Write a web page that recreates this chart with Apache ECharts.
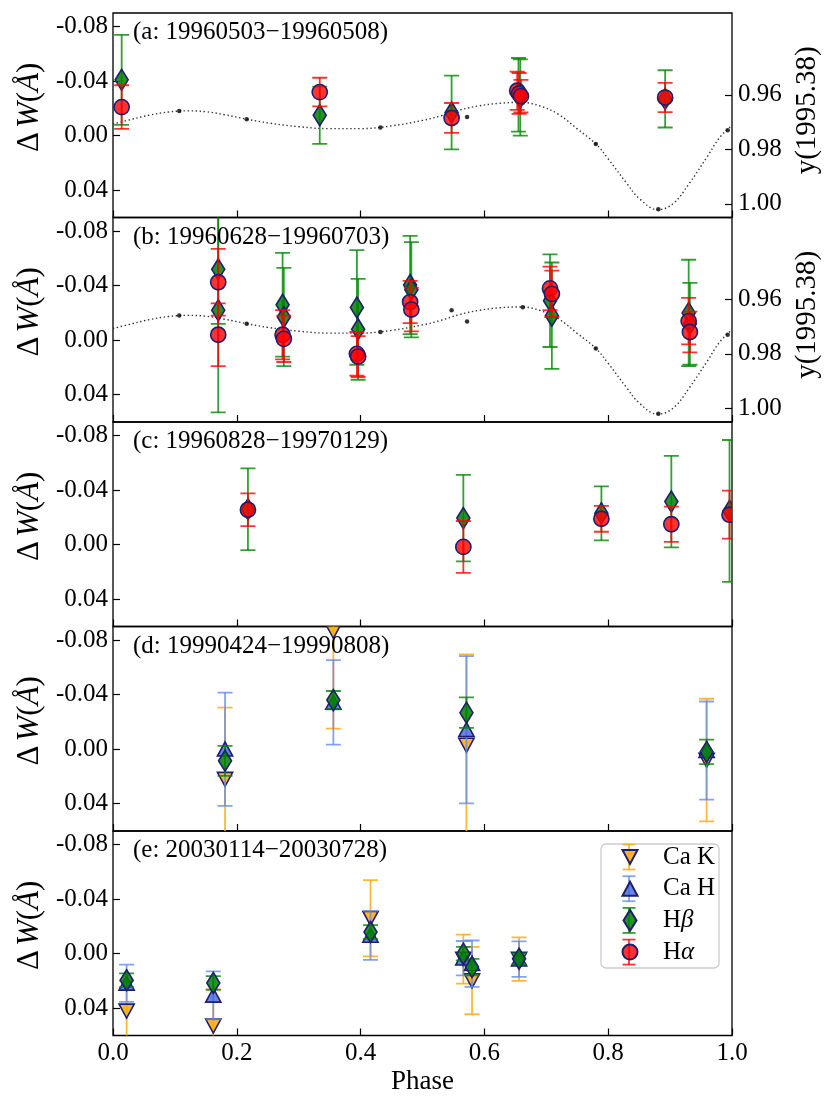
<!DOCTYPE html>
<html>
<head>
<meta charset="utf-8">
<script src="https://cdn.jsdelivr.net/npm/echarts@6/dist/echarts.min.js"></script>
<style>
  html, body { margin: 0; padding: 0; background: #fff; }
  #chart { width: 831px; height: 1114px; }
</style>
</head>
<body>
<div id="chart"></div>
<script>
// each point: [phase, dW, error]
// panel (a) 19960503-19960508
const a_Hb = [[0.014, -0.041, 0.033], [0.334, -0.015, 0.021], [0.547, -0.017, 0.027], [0.655, -0.030, 0.027], [0.658, -0.028, 0.028], [0.892, -0.027, 0.021]];
const a_Ha = [[0.014, -0.021, 0.016], [0.334, -0.032, 0.0105], [0.547, -0.013, 0.011], [0.653, -0.033, 0.014], [0.656, -0.031, 0.015], [0.659, -0.029, 0.012], [0.892, -0.028, 0.0107]];

// panel (b) 19960628-19960703
const b_Hb = [[0.170, -0.052, 0.040], [0.170, -0.022, 0.075], [0.274, -0.026, 0.038], [0.276, -0.017, 0.036], [0.394, -0.024, 0.042], [0.396, -0.008, 0.037],
  [0.480, -0.0405, 0.036], [0.482, -0.037, 0.035], [0.706, -0.029, 0.034], [0.709, -0.018, 0.039], [0.930, -0.020, 0.039], [0.932, -0.012, 0.030]];
const b_Ha = [[0.170, -0.0425, 0.0245], [0.170, -0.004, 0.023], [0.274, -0.004, 0.018], [0.276, -0.001, 0.017], [0.394, 0.010, 0.016], [0.396, 0.012, 0.015],
  [0.480, -0.028, 0.0155], [0.482, -0.0225, 0.016], [0.706, -0.038, 0.016], [0.709, -0.034, 0.017], [0.930, -0.014, 0.017], [0.932, -0.006, 0.015]];

// panel (c) 19960828-19970129
const c_Hb = [[0.218, -0.026, 0.030], [0.566, -0.0195, 0.0317], [0.789, -0.023, 0.0198], [0.902, -0.0316, 0.0336], [0.996, -0.0248, 0.052]];
const c_Ha = [[0.218, -0.0256, 0.012], [0.566, 0.0016, 0.019], [0.789, -0.019, 0.0095], [0.902, -0.015, 0.013], [0.996, -0.022, 0.0176]];

// panel (d) 19990424-19990808
const d_CaK = [[0.181, 0.022, 0.0525], [0.356, -0.0866, 0.0715], [0.571, -0.003, 0.0665], [0.959, 0.008, 0.045]];
const d_CaH = [[0.181, 0.000, 0.0415], [0.356, -0.0343, 0.031], [0.571, -0.0143, 0.054], [0.959, 0.001, 0.036]];
const d_Hb = [[0.181, 0.0085, 0.011], [0.356, -0.036, 0.0067], [0.571, -0.0268, 0.0112], [0.959, 0.002, 0.009]];

// panel (e) 20030114-20030728
const e_CaK = [[0.022, 0.042, 0.022], [0.162, 0.053, 0.027], [0.416, -0.026, 0.028], [0.566, 0.004, 0.018], [0.580, 0.0197, 0.0247], [0.656, 0.004, 0.016]];
const e_CaH = [[0.022, 0.0217, 0.0137], [0.162, 0.0305, 0.0176], [0.416, -0.0134, 0.018], [0.566, 0.0033, 0.0126], [0.580, 0.0073, 0.017], [0.656, 0.004, 0.013]];
const e_Hb = [[0.022, 0.0195, 0.005], [0.162, 0.0215, 0.005], [0.416, -0.0159, 0.005], [0.566, 0.000, 0.005], [0.580, 0.0098, 0.006], [0.656, 0.0037, 0.004]];

// y(1995.38) model curve and its sampled points (right axis of a, b)
const modelCurve = [[0, 0.9707], [0.03, 0.9690], [0.06, 0.9674], [0.09, 0.9663], [0.12, 0.9659], [0.15, 0.9662], [0.18, 0.9673], [0.22, 0.9691],
  [0.25, 0.9703], [0.30, 0.9717], [0.35, 0.9724], [0.40, 0.9724], [0.45, 0.9714], [0.50, 0.9694], [0.53, 0.9677], [0.56, 0.9656], [0.59, 0.9641],
  [0.625, 0.9631], [0.66, 0.9628], [0.69, 0.9641], [0.72, 0.9672], [0.75, 0.9725], [0.78, 0.9780], [0.80, 0.9835], [0.83, 0.9925], [0.85, 0.9980],
  [0.88, 1.0021], [0.905, 0.9999], [0.93, 0.9928], [0.96, 0.9827], [0.98, 0.9757], [1.0, 0.9712]];
const modelDots = [[0.107, 0.9659], [0.216, 0.9690], [0.432, 0.9720], [0.547, 0.9640], [0.572, 0.9681], [0.662, 0.9629], [0.780, 0.9780], [0.881, 1.0020], [0.993, 0.9730]];

const panelTitles = ['(a: 19960503\u221219960508)', '(b: 19960628\u221219960703)', '(c: 19960828\u221219970129)', '(d: 19990424\u221219990808)', '(e: 20030114\u221220030728)'];
const panelData = [
  { 'Hβ': a_Hb, 'Hα': a_Ha },
  { 'Hβ': b_Hb, 'Hα': b_Ha },
  { 'Hβ': c_Hb, 'Hα': c_Ha },
  { 'Ca K': d_CaK, 'Ca H': d_CaH, 'Hβ': d_Hb },
  { 'Ca K': e_CaK, 'Ca H': e_CaH, 'Hβ': e_Hb }
];
const leftTicks = [-0.08, -0.04, 0.00, 0.04];
const rightTicks = [0.96, 0.98, 1.00];

const FONT = '"Liberation Serif", "DejaVu Serif", serif';
const FS = 25;
const EDGE = '#1f1f6e';
const lines = [
  { name: 'Ca K', fill: 'rgba(255,170,0,0.85)', bar: 'rgba(255,170,20,0.85)', shape: 'tridown', icon: 'path://M0,0 L15,0 L7.5,14 Z' },
  { name: 'Ca H', fill: 'rgba(65,105,225,0.8)', bar: 'rgba(100,140,237,0.8)', shape: 'triup', icon: 'path://M7.5,0 L15,14 L0,14 Z' },
  { name: 'Hβ', fill: 'rgba(0,128,0,0.85)', bar: 'rgba(0,135,0,0.8)', shape: 'diamond', icon: 'path://M6.5,0 L13,10.5 L6.5,21 L0,10.5 Z' },
  { name: 'Hα', fill: 'rgba(255,0,0,0.8)', bar: 'rgba(255,0,0,0.8)', shape: 'circle', icon: 'circle' }
];

const LEFT = 113, WIDTH = 619, TOP = 13, PH = 204.5;
// legend box
const LEG_X = 601, LEG_Y = 844, LEG_W = 118, LEG_H = 124, LEG_ROW = 31.7, LEG_PADL = 20.5, LEG_PADT = 0.5;

const chart = echarts.init(document.getElementById('chart'));

const grids = [], xAxes = [], yAxes = [], titles = [], series = [];

for (let i = 0; i < 5; i++) {
  grids.push({ left: LEFT, top: TOP + PH * i, width: WIDTH, height: PH, show: true, borderColor: '#000', borderWidth: 1.3, backgroundColor: 'transparent' });
  xAxes.push({
    gridIndex: i, type: 'value', min: 0, max: 1, interval: 0.2,
    axisLine: { show: false, onZero: false }, splitLine: { show: false },
    axisTick: { show: true, inside: true, length: 7, lineStyle: { color: '#000', width: 1.2 } },
    axisLabel: { show: i === 4, margin: 5, color: '#000', fontSize: FS, fontFamily: FONT, formatter: v => v.toFixed(1) },
    name: i === 4 ? 'Phase' : '', nameLocation: 'middle', nameGap: 33,
    nameTextStyle: { color: '#000', fontSize: 27, fontFamily: FONT }
  });
  yAxes.push({
    gridIndex: i, type: 'value', inverse: true, min: -0.09, max: 0.06,
    axisLine: { show: false, onZero: false }, splitLine: { show: false },
    axisTick: { show: true, inside: true, length: 7, customValues: leftTicks, lineStyle: { color: '#000', width: 1.2 } },
    axisLabel: { margin: 5, color: '#000', fontSize: FS, fontFamily: FONT, customValues: leftTicks, formatter: v => v.toFixed(2) },
    name: '{d|Δ}{i|W}{n|(}{i|Å}{n|)}', nameLocation: 'middle', nameGap: 63, nameRotate: 90,
    nameTextStyle: {
      color: '#000', fontFamily: FONT, padding: [0, 0, 0, 16],
      rich: {
        d: { fontSize: 31, fontFamily: FONT, color: '#000', padding: [0, 4, 0, 0] },
        i: { fontSize: 31, fontStyle: 'italic', fontFamily: FONT, color: '#000' },
        n: { fontSize: 31, fontFamily: FONT, color: '#000' }
      }
    }
  });
  titles.push({
    text: panelTitles[i], left: 133, top: TOP + PH * i + 7, padding: 0,
    textStyle: { color: '#000', fontSize: FS, fontWeight: 'normal', fontFamily: FONT }
  });
}

// right axes for panels a and b
for (let i = 0; i < 2; i++) {
  yAxes.push({
    gridIndex: i, type: 'value', position: 'right', inverse: true, min: 0.93, max: 1.005,
    axisLine: { show: false, onZero: false }, splitLine: { show: false },
    axisTick: { show: true, inside: true, length: 7, customValues: rightTicks, lineStyle: { color: '#000', width: 1.2 } },
    axisLabel: { margin: 6, color: '#000', fontSize: FS, fontFamily: FONT, customValues: rightTicks, formatter: v => v.toFixed(2) },
    name: 'y(1995.38)', nameLocation: 'middle', nameGap: 60, nameRotate: 90,
    nameTextStyle: { color: '#000', fontSize: 29, fontFamily: FONT, padding: [0, 0, 0, 10] }
  });
  series.push({
    type: 'line', xAxisIndex: i, yAxisIndex: 5 + i, data: modelCurve, smooth: 0.4, symbol: 'none', z: 1,
    lineStyle: { color: '#333', width: 1.4, type: [1.4, 2.6] }, silent: true
  });
  series.push({
    type: 'scatter', xAxisIndex: i, yAxisIndex: 5 + i, data: modelDots, symbolSize: 4.5, z: 1,
    itemStyle: { color: '#000' }, silent: true
  });
}

function errorBarRenderer(color) {
  return function (params, api) {
    const x = api.value(0), y = api.value(1), e = api.value(2);
    const top = api.coord([x, y - e]);
    const bot = api.coord([x, y + e]);
    const w = 7.5;
    const st = { stroke: color, lineWidth: 1.8 };
    return {
      type: 'group', children: [
        { type: 'line', shape: { x1: top[0], y1: top[1], x2: bot[0], y2: bot[1] }, style: st },
        { type: 'line', shape: { x1: top[0] - w, y1: top[1], x2: top[0] + w, y2: top[1] }, style: st },
        { type: 'line', shape: { x1: bot[0] - w, y1: bot[1], x2: bot[0] + w, y2: bot[1] }, style: st }
      ]
    };
  };
}

// markers drawn as custom shapes so the plot frame clips them like matplotlib
function markerRenderer(ln) {
  return function (params, api) {
    const c = api.coord([api.value(0), api.value(1)]);
    const style = { fill: ln.fill, stroke: EDGE, lineWidth: 1.6 };
    const x = c[0], y = c[1];
    if (ln.shape === 'circle') return { type: 'circle', shape: { cx: x, cy: y, r: 7.6 }, style };
    let pts;
    if (ln.shape === 'triup') pts = [[x, y - 7.2], [x + 7.6, y + 6.8], [x - 7.6, y + 6.8]];
    else if (ln.shape === 'tridown') pts = [[x, y + 7.2], [x + 7.6, y - 6.8], [x - 7.6, y - 6.8]];
    else pts = [[x, y - 10.5], [x + 6.5, y], [x, y + 10.5], [x - 6.5, y]];
    return { type: 'polygon', shape: { points: pts }, style };
  };
}

for (let i = 0; i < 5; i++) {
  lines.forEach((ln, k) => {
    const pts = panelData[i][ln.name];
    if (!pts) return;
    series.push({
      type: 'custom', name: ln.name + ' err', xAxisIndex: i, yAxisIndex: i, clip: true,
      renderItem: errorBarRenderer(ln.bar), data: pts, encode: { x: 0, y: 1 }, z: 2 + 2 * k, silent: true
    });
    series.push({
      type: 'custom', name: ln.name + ' pts', xAxisIndex: i, yAxisIndex: i, clip: true,
      renderItem: markerRenderer(ln), data: pts, encode: { x: 0, y: 1 }, z: 3 + 2 * k, silent: true
    });
  });
}

// empty series that only feed the legend
lines.forEach(ln => {
  series.push({
    type: 'scatter', name: ln.name, xAxisIndex: 4, yAxisIndex: 4, data: [],
    itemStyle: { color: ln.fill, borderColor: EDGE, borderWidth: 1.6, opacity: 1 }
  });
});

// legend frame and the error bar strokes behind the legend markers
const legendGraphics = [{
  type: 'rect', shape: { x: LEG_X, y: LEG_Y, width: LEG_W, height: LEG_H, r: 5 },
  style: { fill: 'rgba(255,255,255,0.8)', stroke: '#cccccc', lineWidth: 1.3 }, z: 20
}];
lines.forEach((ln, j) => {
  const cx = LEG_X + LEG_PADL + 7.5;
  const cy = LEG_Y + LEG_PADT + 12.5 + LEG_ROW * j;
  const st = { stroke: ln.bar, lineWidth: 1.8 };
  legendGraphics.push(
    { type: 'line', shape: { x1: cx, y1: cy - 12.5, x2: cx, y2: cy + 12.5 }, style: st, z: 21 },
    { type: 'line', shape: { x1: cx - 6.5, y1: cy - 12.5, x2: cx + 6.5, y2: cy - 12.5 }, style: st, z: 21 },
    { type: 'line', shape: { x1: cx - 6.5, y1: cy + 12.5, x2: cx + 6.5, y2: cy + 12.5 }, style: st, z: 21 }
  );
});

chart.setOption({
  animation: false,
  backgroundColor: '#fff',
  title: titles,
  grid: grids,
  xAxis: xAxes,
  yAxis: yAxes,
  graphic: { elements: legendGraphics },
  legend: {
    orient: 'vertical', left: LEG_X, top: LEG_Y, z: 30,
    data: lines.map(l => ({ name: l.name, icon: l.icon })),
    itemWidth: 15, itemHeight: 21, itemGap: LEG_ROW - 25,
    padding: [LEG_PADT, 4, 4, LEG_PADL],
    backgroundColor: 'transparent', borderWidth: 0,
    selectedMode: false,
    formatter: name => {
      if (name === 'Hβ') return '{n|H}{i|β}';
      if (name === 'Hα') return '{n|H}{i|α}';
      return '{n|' + name + '}';
    },
    textStyle: {
      color: '#000', fontFamily: FONT, fontSize: FS, lineHeight: 25, padding: [0, 0, 0, 20.5],
      rich: {
        n: { fontSize: FS, lineHeight: 25, fontFamily: FONT, color: '#000' },
        i: { fontSize: FS, lineHeight: 25, fontFamily: FONT, fontStyle: 'italic', color: '#000' }
      }
    }
  },
  series: series
});
</script>
</body>
</html>
